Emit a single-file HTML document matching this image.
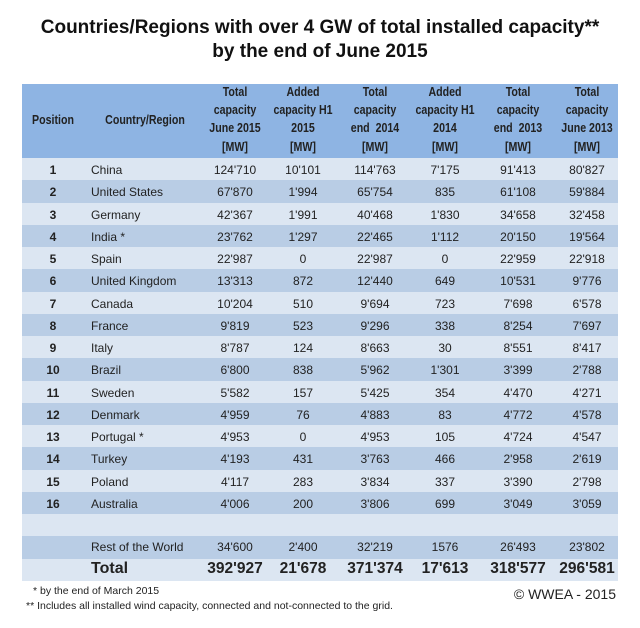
<!DOCTYPE html>
<html><head><meta charset="utf-8"><style>
body{margin:0;background:#fff;font-family:"Liberation Sans",sans-serif;}
#wrap{position:relative;width:640px;height:628px;overflow:hidden;background:#fff;}
.t{position:absolute;left:0;width:640px;text-align:center;font-weight:bold;font-size:19px;color:#111;}
.band{position:absolute;left:22px;width:596px;}
.c{position:absolute;font-size:12px;color:#222;white-space:nowrap;transform:translateX(-50%);}
.h{position:absolute;font-size:12.5px;font-weight:bold;color:#222;text-align:center;line-height:18px;transform:translateX(-50%) scaleX(0.85);white-space:nowrap;}
.fn{position:absolute;font-size:10.5px;color:#222;}
</style></head><body>
<div id="wrap">
<div class="t" style="top:17px">Countries/Regions with over 4 GW of total installed capacity**</div>
<div class="t" style="top:41px">by the end of June 2015</div>
<div class="band" style="top:84px;height:74px;background:#8eb4e3"></div>
<div id="tbl"></div>
<div class="fn" style="left:33px;top:585px">* by the end of March 2015</div>
<div class="fn" style="left:26px;top:600px">** Includes all installed wind capacity, connected and not-connected to the grid.</div>
<div style="position:absolute;right:24px;top:586px;font-size:14px;color:#222">© WWEA - 2015</div>
</div>
<script>
const positions=["1","2","3","4","5","6","7","8","9","10","11","12","13","14","15","16"];
const countries=["China","United States","Germany","India *","Spain","United Kingdom","Canada","France","Italy","Brazil","Sweden","Denmark","Portugal *","Turkey","Poland","Australia"];
const total2015=["124'710","67'870","42'367","23'762","22'987","13'313","10'204","9'819","8'787","6'800","5'582","4'959","4'953","4'193","4'117","4'006"];
const added2015=["10'101","1'994","1'991","1'297","0","872","510","523","124","838","157","76","0","431","283","200"];
const total2014=["114'763","65'754","40'468","22'465","22'987","12'440","9'694","9'296","8'663","5'962","5'425","4'883","4'953","3'763","3'834","3'806"];
const added2014=["7'175","835","1'830","1'112","0","649","723","338","30","1'301","354","83","105","466","337","699"];
const total2013=["91'413","61'108","34'658","20'150","22'959","10'531","7'698","8'254","8'551","3'399","4'470","4'772","4'724","2'958","3'390","3'049"];
const june2013=["80'827","59'884","32'458","19'564","22'918","9'776","6'578","7'697","8'417","2'788","4'271","4'578","4'547","2'619","2'798","3'059"];
const restRow=["34'600","2'400","32'219","1576","26'493","23'802"];
const totalRow=["392'927","21'678","371'374","17'613","318'577","296'581"];
const headers=[["Position"],["Country/Region"],["Total","capacity","June 2015","[MW]"],["Added","capacity H1","2015","[MW]"],["Total","capacity","end  2014","[MW]"],["Added","capacity H1","2014","[MW]"],["Total","capacity","end  2013","[MW]"],["Total","capacity","June 2013","[MW]"]];
const colX=[53,145,235,303,375,445,518,587];
const tbl=document.getElementById('tbl');
const wrap=document.getElementById('wrap');
headers.forEach((h,i)=>{
  const d=document.createElement('div');
  d.className='h';
  d.style.left=colX[i]+'px';
  d.style.top=(h.length===1?111:83)+'px';
  d.innerHTML=h.map((s,j)=>'<div style="height:'+(j===2?19:18)+'px">'+s.replace(/  /,'&nbsp; ')+'</div>').join('');
  
  
  wrap.appendChild(d);
});
const RH=22.25, TOP=158;
function addCell(txt,x,y,left,bold,size){
  const d=document.createElement('div');
  d.className='c';
  d.textContent=txt;
  d.style.left=x+'px';
  d.style.top=y+'px';
  if(left)d.style.transform='none';
  if(bold){d.style.fontWeight='bold';}
  if(size)d.style.fontSize=size+'px';
  
  
  wrap.appendChild(d);
}
for(let k=0;k<19;k++){
  const b=document.createElement('div');
  b.className='band';
  b.style.top=(TOP+k*RH)+'px';
  b.style.height=(RH+0.5)+'px';
  b.style.background=(k%2===0)?'#dce6f2':'#b9cde5';
  
  
  tbl.appendChild(b);
}
for(let i=0;i<16;i++){
  const y=TOP+i*RH+5;
  addCell(positions[i],colX[0],y,false,true);
  addCell(countries[i],91,y,true,false);
  [total2015,added2015,total2014,added2014,total2013,june2013].forEach((arr,j)=>addCell(arr[i],colX[j+2],y,false,false));
}
let y=TOP+17*RH+4;
addCell("Rest of the World",91,y,true,false);
restRow.forEach((v,j)=>addCell(v,colX[j+2],y,false,false));
y=TOP+18*RH+1;
addCell("Total",91,y,true,true,16);
totalRow.forEach((v,j)=>addCell(v,colX[j+2],y,false,true,15.5));
</script>
</body></html>
